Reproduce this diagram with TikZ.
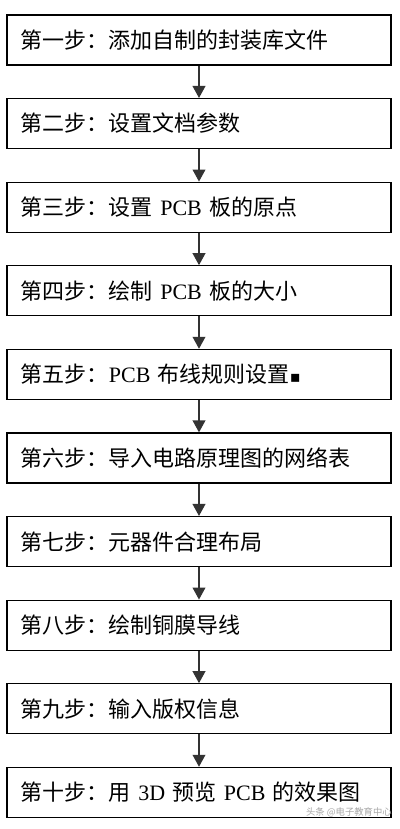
\documentclass[tikz,border=0pt]{standalone}
\usepackage{fontspec}
\setmainfont{Noto Sans CJK SC}
\newfontfamily\latfont{Liberation Serif}
\newfontfamily\symfont{DejaVu Sans}
\usetikzlibrary{positioning,arrows.meta}

\tikzset{
  stepbox/.style={draw, line width=0.9pt, minimum width=288pt, minimum height=37.5pt,
    text width=267pt, inner xsep=10.5pt, align=left,
    font=\fontsize{16.5pt}{20pt}\selectfont},
  steparrow/.style={line width=1.3pt, black!80, -{Triangle[width=9.5pt,length=9pt]}}
}

\begin{document}
\begin{tikzpicture}[node distance=24.3pt]
    % Frame
    \useasboundingbox (0,0) rectangle (300pt,621.75pt);
    % Steps
    \node[stepbox] (s1) at (149.25pt,591.75pt) {第一步：添加自制的封装库文件};
    \node[stepbox, below=of s1] (s2) {第二步：设置文档参数};
    \node[stepbox, below=of s2] (s3) {第三步：设置 {\latfont PCB} 板的原点};
    \node[stepbox, below=of s3] (s4) {第四步：绘制 {\latfont PCB} 板的大小};
    \node[stepbox, below=of s4] (s5) {第五步：{\latfont PCB} 布线规则设置{\symfont\fontsize{12pt}{12pt}\selectfont ▪}};
    \node[stepbox, below=of s5] (s6) {第六步：导入电路原理图的网络表};
    \node[stepbox, below=of s6] (s7) {第七步：元器件合理布局};
    \node[stepbox, below=of s7] (s8) {第八步：绘制铜膜导线};
    \node[stepbox, below=of s8] (s9) {第九步：输入版权信息};
    \node[stepbox, below=of s9] (s10) {第十步：用 {\latfont 3D} 预览 {\latfont PCB} 的效果图};
    % Arrows
    \draw[steparrow] (s1) -- (s2);
    \draw[steparrow] (s2) -- (s3);
    \draw[steparrow] (s3) -- (s4);
    \draw[steparrow] (s4) -- (s5);
    \draw[steparrow] (s5) -- (s6);
    \draw[steparrow] (s6) -- (s7);
    \draw[steparrow] (s7) -- (s8);
    \draw[steparrow] (s8) -- (s9);
    \draw[steparrow] (s9) -- (s10);
    % Watermark
    \node[font=\fontsize{7pt}{8pt}\selectfont, gray!70, anchor=east, inner sep=0pt] (mark)
      at (294pt,12.5pt) {头条 @电子教育中心};
\end{tikzpicture}
\end{document}
